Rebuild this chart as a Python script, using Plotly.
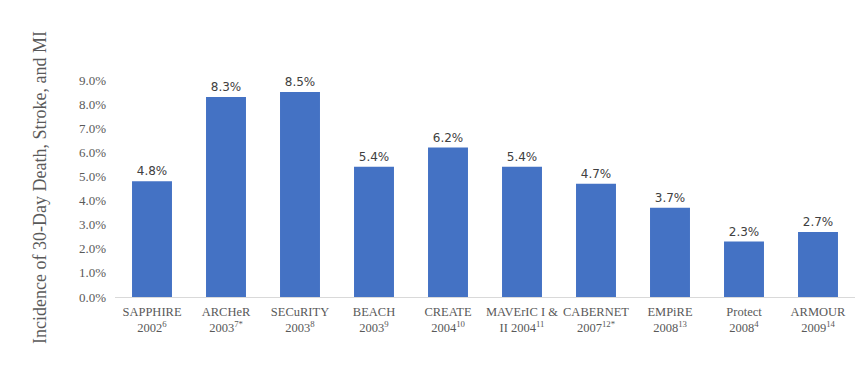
import plotly.graph_objects as go

categories = [
    "SAPPHIRE<br>2002<sup>6</sup>",
    "ARCHeR<br>2003<sup>7*</sup>",
    "SECuRITY<br>2003<sup>8</sup>",
    "BEACH<br>2003<sup>9</sup>",
    "CREATE<br>2004<sup>10</sup>",
    "MAVErIC I &<br>II 2004<sup>11</sup>",
    "CABERNET<br>2007<sup>12*</sup>",
    "EMPiRE<br>2008<sup>13</sup>",
    "Protect<br>2008<sup>4</sup>",
    "ARMOUR<br>2009<sup>14</sup>",
]
values = [4.8, 8.3, 8.5, 5.4, 6.2, 5.4, 4.7, 3.7, 2.3, 2.7]
tick_vals = [0, 1, 2, 3, 4, 5, 6, 7, 8, 9]
tick_text = [f"{v:.1f}%" for v in tick_vals]

fig = go.Figure()
fig.add_trace(go.Bar(
    x=list(range(len(categories))),
    y=values,
    marker=dict(color="#4472C4", line=dict(width=0)),
    text=[f"{v:.1f}%" for v in values],
    textposition="outside",
    cliponaxis=False,
    textfont=dict(family="DejaVu Sans", size=12, color="#404040"),
))

fig.update_layout(
    width=865, height=373,
    margin=dict(l=107, r=18, t=72, b=84),
    plot_bgcolor="white", paper_bgcolor="white",
    bargap=0.46,
    showlegend=False,
    xaxis=dict(
        tickmode="array",
        tickvals=list(range(len(categories))),
        ticktext=categories,
        range=[-0.5, len(categories) - 0.5],
        showline=True, linecolor="#D9D9D9", linewidth=1,
        ticks="", showgrid=False, automargin=False, ticklabelstandoff=3,
        tickfont=dict(family="Liberation Serif", size=12.5, color="#595959"),
    ),
    yaxis=dict(
        range=[0, 9],
        tickmode="array",
        tickvals=tick_vals,
        ticktext=tick_text,
        showgrid=False, zeroline=False, showline=False,
        ticks="", automargin=False, ticklabelstandoff=8,
        tickfont=dict(family="Liberation Serif", size=13, color="#595959"),
    ),
    annotations=[dict(
        text="Incidence of 30-Day Death, Stroke, and MI",
        textangle=-90,
        xref="paper", yref="paper",
        x=-(115 - 40) / 740, y=(297 - 188) / 217,
        xanchor="center", yanchor="middle",
        showarrow=False,
        font=dict(family="Liberation Serif", size=18, color="#595959"),
    )],
)

fig.write_html("out.html")
